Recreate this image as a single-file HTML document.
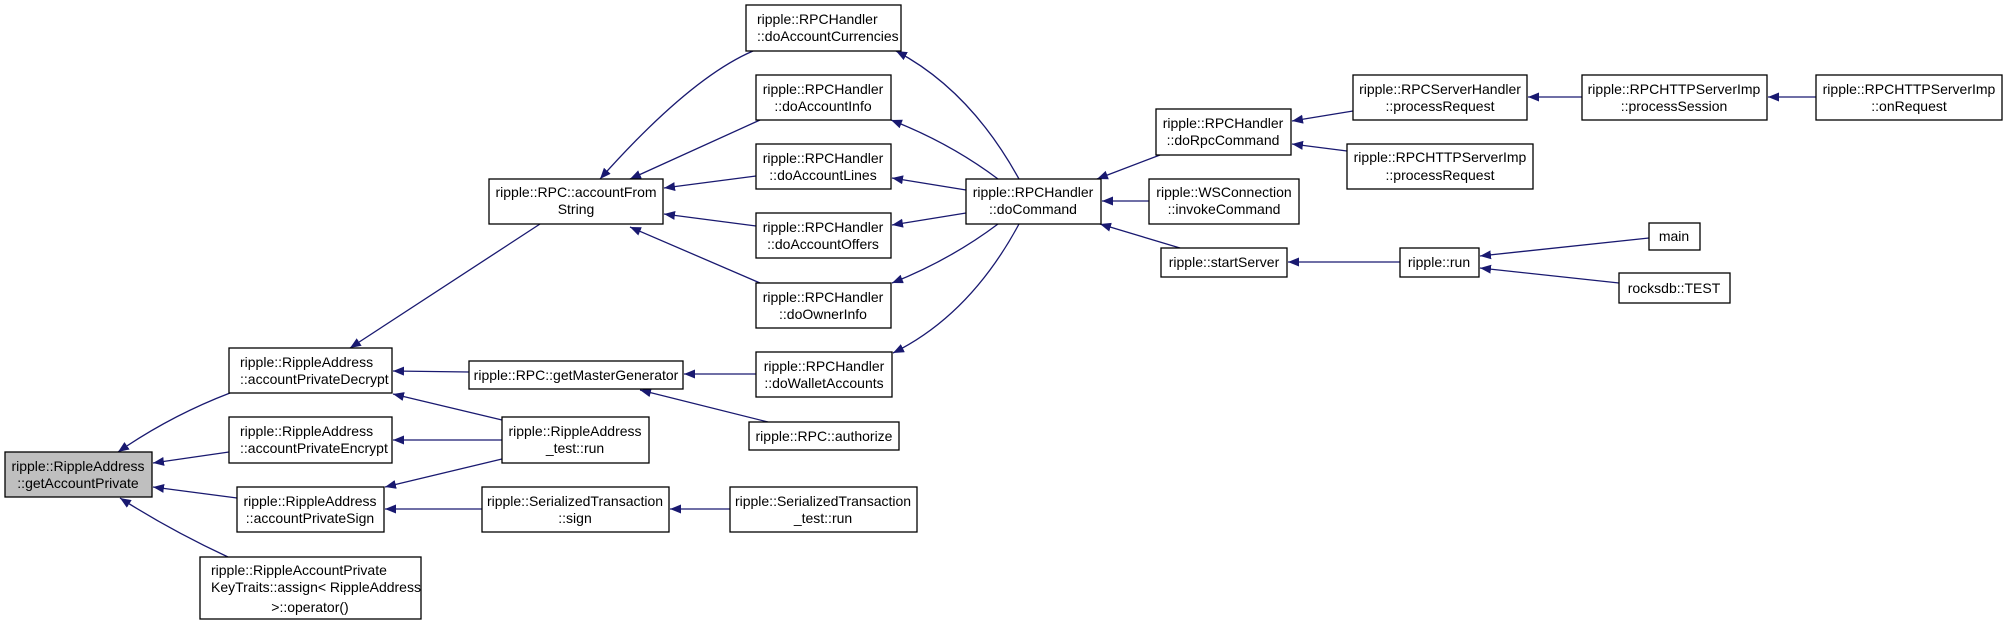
<!DOCTYPE html>
<html><head><meta charset="utf-8"><style>
html,body{margin:0;padding:0;background:#fff;}
svg{display:block;}
text{font-family:"Liberation Sans",Arial,sans-serif;font-size:14px;fill:#000;}
</style></head><body>
<svg width="2008" height="625" viewBox="0 0 2008 625" xmlns="http://www.w3.org/2000/svg">
<defs>
<marker id="a" markerUnits="userSpaceOnUse" markerWidth="12" markerHeight="10" refX="11" refY="4.5" orient="auto">
<path d="M0,0 L11,4.5 L0,9 z" fill="#191970"/>
</marker>
</defs>
<g fill="none" stroke="#191970" stroke-width="1.3" marker-end="url(#a)">
<!-- into getAccountPrivate -->
<path d="M230,393 Q170,416 118,452"/>
<path d="M229,452 L153,463"/>
<path d="M237,498 L153,487"/>
<path d="M228,557 Q170,530 120,498"/>
<!-- into Decrypt -->
<path d="M540,224 L350,348"/>
<path d="M469,372 L393,371"/>
<path d="M502,420 L393,394"/>
<!-- into Encrypt -->
<path d="M502,440 L393,440"/>
<!-- into Sign -->
<path d="M502,459 L385,487"/>
<path d="M482,509 L385,509"/>
<!-- into accountFromString -->
<path d="M753,51 Q690,78 600,179"/>
<path d="M760,120 L630,179"/>
<path d="M756,176 L664,188"/>
<path d="M756,226 L664,214"/>
<path d="M760,283 L630,227"/>
<!-- into getMasterGenerator -->
<path d="M756,374 L684,374"/>
<path d="M768,422 L640,390"/>
<!-- into SerializedTransaction::sign -->
<path d="M730,509 L670,509"/>
<!-- into doAccount* from doCommand -->
<path d="M1019,179 Q970,90 896,51"/>
<path d="M998,179 Q950,143 891,120"/>
<path d="M966,190 L892,178"/>
<path d="M966,213 L892,225"/>
<path d="M998,224 Q950,260 892,283"/>
<path d="M1019,224 Q970,315 893,353"/>
<!-- into doCommand -->
<path d="M1160,155 L1097,179"/>
<path d="M1149,201 L1102,201"/>
<path d="M1180,248 L1100,224"/>
<!-- into doRpcCommand -->
<path d="M1353,111 L1292,121"/>
<path d="M1347,151 L1292,144"/>
<!-- chain -->
<path d="M1582,97 L1528,97"/>
<path d="M1816,97 L1768,97"/>
<path d="M1400,262 L1288,262"/>
<path d="M1649,238 L1480,256"/>
<path d="M1619,283 L1480,268"/>
</g>
<g stroke="#000" stroke-width="1.3" fill="#fff">
<rect x="5" y="452" width="147" height="45" fill="#bfbfbf"/>
<rect x="229" y="348" width="163" height="45"/>
<rect x="229" y="417" width="163" height="46"/>
<rect x="237" y="487" width="147" height="45"/>
<rect x="200" y="557" width="221" height="62"/>
<rect x="489" y="179" width="174" height="45"/>
<rect x="469" y="361" width="214" height="28"/>
<rect x="502" y="417" width="147" height="46"/>
<rect x="482" y="487" width="187" height="45"/>
<rect x="746" y="5" width="155" height="46"/>
<rect x="756" y="75" width="135" height="45"/>
<rect x="756" y="144" width="135" height="45"/>
<rect x="756" y="213" width="135" height="45"/>
<rect x="756" y="283" width="135" height="45"/>
<rect x="756" y="352" width="136" height="45"/>
<rect x="749" y="422" width="150" height="28"/>
<rect x="730" y="487" width="187" height="45"/>
<rect x="966" y="179" width="135" height="45"/>
<rect x="1156" y="109" width="135" height="46"/>
<rect x="1149" y="179" width="150" height="45"/>
<rect x="1161" y="248" width="126" height="29"/>
<rect x="1353" y="75" width="174" height="45"/>
<rect x="1347" y="144" width="186" height="45"/>
<rect x="1582" y="75" width="185" height="45"/>
<rect x="1816" y="75" width="186" height="45"/>
<rect x="1400" y="248" width="79" height="29"/>
<rect x="1649" y="223" width="51" height="27"/>
<rect x="1619" y="273" width="111" height="30"/>
</g>
<g text-anchor="middle">
<text x="78" y="471">ripple::RippleAddress</text><text x="78" y="488">::getAccountPrivate</text>
<text x="310" y="506">ripple::RippleAddress</text><text x="310" y="523">::accountPrivateSign</text>
<text x="310" y="612">&gt;::operator()</text>
<text x="576" y="197">ripple::RPC::accountFrom</text><text x="576" y="214">String</text>
<text x="576" y="380">ripple::RPC::getMasterGenerator</text>
<text x="575" y="436">ripple::RippleAddress</text><text x="575" y="453">_test::run</text>
<text x="575" y="506">ripple::SerializedTransaction</text><text x="575" y="523">::sign</text>
<text x="823" y="94">ripple::RPCHandler</text><text x="823" y="111">::doAccountInfo</text>
<text x="823" y="163">ripple::RPCHandler</text><text x="823" y="180">::doAccountLines</text>
<text x="823" y="232">ripple::RPCHandler</text><text x="823" y="249">::doAccountOffers</text>
<text x="823" y="302">ripple::RPCHandler</text><text x="823" y="319">::doOwnerInfo</text>
<text x="824" y="371">ripple::RPCHandler</text><text x="824" y="388">::doWalletAccounts</text>
<text x="824" y="441">ripple::RPC::authorize</text>
<text x="823" y="506">ripple::SerializedTransaction</text><text x="823" y="523">_test::run</text>
<text x="1033" y="197">ripple::RPCHandler</text><text x="1033" y="214">::doCommand</text>
<text x="1223" y="128">ripple::RPCHandler</text><text x="1223" y="145">::doRpcCommand</text>
<text x="1224" y="197">ripple::WSConnection</text><text x="1224" y="214">::invokeCommand</text>
<text x="1224" y="267">ripple::startServer</text>
<text x="1440" y="94">ripple::RPCServerHandler</text><text x="1440" y="111">::processRequest</text>
<text x="1440" y="162">ripple::RPCHTTPServerImp</text><text x="1440" y="180">::processRequest</text>
<text x="1674" y="94">ripple::RPCHTTPServerImp</text><text x="1674" y="111">::processSession</text>
<text x="1909" y="94">ripple::RPCHTTPServerImp</text><text x="1909" y="111">::onRequest</text>
<text x="1439" y="267">ripple::run</text>
<text x="1674" y="241">main</text>
<text x="1674" y="293">rocksdb::TEST</text>
</g>
<g text-anchor="start">
<text x="240" y="367">ripple::RippleAddress</text><text x="240" y="384">::accountPrivateDecrypt</text>
<text x="240" y="436">ripple::RippleAddress</text><text x="240" y="453">::accountPrivateEncrypt</text>
<text x="211" y="575">ripple::RippleAccountPrivate</text><text x="211" y="592">KeyTraits::assign&lt; RippleAddress</text>
<text x="757" y="24">ripple::RPCHandler</text><text x="757" y="41">::doAccountCurrencies</text>
</g>
</svg>
</body></html>
